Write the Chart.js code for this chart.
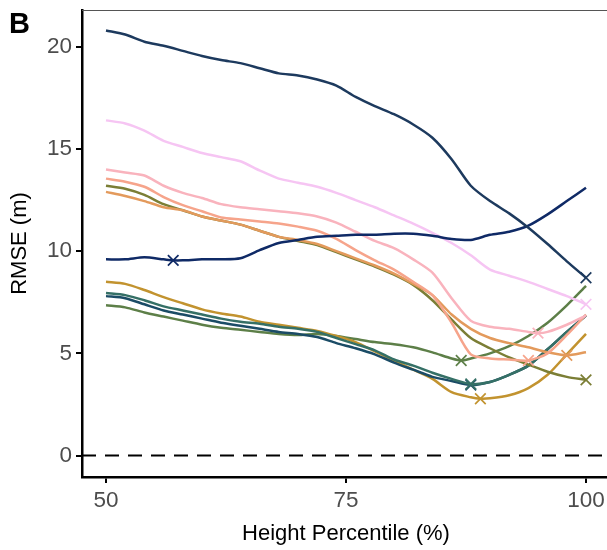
<!DOCTYPE html>
<html>
<head>
<meta charset="utf-8">
<script src="https://cdn.jsdelivr.net/npm/chart.js@4"></script>
<style>
  html, body { margin: 0; padding: 0; background: #fff; overflow: hidden; }
  #wrap { width: 612px; height: 550px; }
</style>
</head>
<body>
<div id="wrap"><canvas id="graf_rmse" width="612" height="550"></canvas></div>
<script>
// percentiles (x) en pasos de 2
var percentiles = [50, 52, 54, 56, 58, 60, 62, 64, 66, 68, 70, 72, 74, 76, 78, 80, 82, 84, 86, 88, 90, 92, 94, 96, 98, 100];

// RMSE (m) por serie
var navyTop  = [20.8, 20.6, 20.25, 20.05, 19.8, 19.55, 19.35, 19.2, 18.95, 18.7, 18.6, 18.4, 18.1, 17.55, 17.1, 16.7, 16.2, 15.55, 14.5, 13.2, 12.45, 11.85, 11.15, 10.35, 9.5, 8.7];
var navyLow  = [9.6, 9.6, 9.7, 9.6, 9.55, 9.6, 9.6, 9.65, 10.05, 10.4, 10.55, 10.7, 10.75, 10.8, 10.8, 10.85, 10.85, 10.75, 10.6, 10.55, 10.8, 10.95, 11.25, 11.8, 12.45, 13.1];
var violet   = [16.4, 16.25, 15.9, 15.4, 15.1, 14.8, 14.6, 14.4, 13.95, 13.55, 13.35, 13.15, 12.85, 12.5, 12.15, 11.75, 11.35, 10.9, 10.4, 9.8, 9.1, 8.8, 8.5, 8.15, 7.8, 7.4];
var pink     = [14.0, 13.85, 13.7, 13.2, 12.85, 12.6, 12.3, 12.15, 12.05, 11.95, 11.85, 11.7, 11.4, 10.95, 10.5, 10.15, 9.6, 8.95, 7.7, 6.6, 6.3, 6.2, 6.05, 6.05, 6.4, 6.85];
var salmon   = [13.55, 13.4, 13.15, 12.65, 12.25, 11.95, 11.65, 11.55, 11.45, 11.35, 11.2, 11.0, 10.6, 10.05, 9.55, 9.1, 8.5, 7.85, 6.5, 4.95, 4.75, 4.7, 4.65, 5.0, 5.9, 6.9];
var orange   = [12.9, 12.7, 12.45, 12.15, 12.0, 11.7, 11.5, 11.3, 11.0, 10.7, 10.55, 10.35, 10.0, 9.65, 9.3, 8.9, 8.4, 7.85, 6.9, 6.2, 5.75, 5.5, 5.3, 5.05, 4.9, 5.05];
var olive    = [13.2, 13.05, 12.75, 12.3, 12.0, 11.7, 11.5, 11.3, 11.0, 10.7, 10.5, 10.3, 9.95, 9.6, 9.25, 8.85, 8.35, 7.6, 6.65, 5.75, 5.25, 4.8, 4.45, 4.1, 3.85, 3.7];
var gold     = [8.5, 8.4, 8.1, 7.75, 7.45, 7.15, 6.95, 6.8, 6.55, 6.4, 6.25, 6.1, 5.85, 5.55, 5.1, 4.65, 4.2, 3.75, 3.1, 2.85, 2.8, 2.95, 3.3, 3.95, 4.95, 5.95];
var teal     = [7.95, 7.85, 7.6, 7.3, 7.1, 6.9, 6.7, 6.55, 6.45, 6.3, 6.2, 6.05, 5.75, 5.45, 5.15, 4.7, 4.4, 4.05, 3.75, 3.5, 3.6, 3.95, 4.4, 5.2, 6.05, 6.85];
var darkBlue = [7.8, 7.7, 7.4, 7.1, 6.9, 6.7, 6.5, 6.35, 6.2, 6.05, 5.95, 5.8, 5.5, 5.25, 4.95, 4.55, 4.2, 3.85, 3.65, 3.45, 3.6, 3.95, 4.4, 5.2, 6.05, 6.85];
var green    = [7.35, 7.25, 7.0, 6.8, 6.6, 6.4, 6.25, 6.15, 6.05, 5.95, 5.9, 5.95, 5.85, 5.7, 5.55, 5.45, 5.3, 5.05, 4.75, 4.75, 5.0, 5.35, 5.85, 6.5, 7.35, 8.3];

// minimo de cada serie (marcado con X), mismo orden que seriesValues
var minPct  = [100, 57, 100, 95, 94, 98, 100, 88, 88, 89, 87];
var minRmse = [8.7, 9.55, 7.4, 5.99, 4.65, 4.9, 3.7, 3.5, 3.45, 2.78, 4.65];

var seriesValues = [navyTop, navyLow, violet, pink, salmon, orange, olive, teal, darkBlue, gold, green];
var seriesColors = ['#1d3a5e', '#0f2a66', '#f6c5f3', '#f9b3bd', '#f6a48b', '#e39a5c', '#7b7e35', '#357066', '#1b4c66', '#c2932f', '#5d7f48'];

var yTicks = [0, 5, 10, 15, 20];
var xTicks = [50, 75, 100];

function buildPoints(values, mx, my) {
  var pts = percentiles.map(function (p, i) { return { x: p, y: values[i] }; });
  var found = pts.find(function (pt) { return pt.x === mx; });
  if (found) { found.y = my; } else { pts.push({ x: mx, y: my }); }
  pts.sort(function (a, b) { return a.x - b.x; });
  return pts;
}

var datasets = seriesValues.map(function (vals, i) {
  var mx = minPct[i], my = minRmse[i];
  return {
    data: buildPoints(vals, mx, my),
    borderColor: seriesColors[i],
    backgroundColor: seriesColors[i],
    borderWidth: 2.5,
    fill: false,
    tension: 0.25,
    pointStyle: 'crossRot',
    pointRadius: function (c) { return c.raw && c.raw.x === mx ? 7.5 : 0; },
    pointBorderWidth: 1.7,
    pointBorderColor: seriesColors[i],
    pointHoverRadius: 0
  };
});

// linea de referencia en 0
datasets.push({
  data: [{ x: 47.5, y: 0 }, { x: 102.5, y: 0 }],
  borderColor: '#000',
  borderWidth: 2,
  borderDash: [14, 9],
  pointRadius: 0,
  fill: false
});

var decor = {
  id: 'decor',
  afterDraw: function (chart) {
    var ctx = chart.ctx, a = chart.chartArea;
    ctx.save();
    ctx.strokeStyle = '#555';
    ctx.lineWidth = 1;
    ctx.beginPath();
    ctx.moveTo(a.left, 10.5);
    ctx.lineTo(chart.width, 10.5);
    ctx.stroke();
    ctx.fillStyle = '#000';
    ctx.font = 'bold 29px "Liberation Sans", Arial, sans-serif';
    ctx.textBaseline = 'alphabetic';
    ctx.fillText('B', 9, 33);
    ctx.restore();
  }
};

var ctx = document.getElementById('graf_rmse').getContext('2d');
var graf_rmse = new Chart(ctx, {
  type: 'line',
  data: { datasets: datasets },
  options: {
    responsive: false,
    animation: false,
    layout: { autoPadding: false, padding: { top: 10, right: 2, left: 0, bottom: 0 } },
    plugins: { legend: { display: false }, tooltip: { enabled: false } },
    scales: {
      x: {
        type: 'linear',
        min: 47.5,
        max: 102.5,
        afterBuildTicks: function (s) { s.ticks = xTicks.map(function (v) { return { value: v }; }); },
        afterFit: function (s) { s.height = 73; s.paddingLeft = 0; s.paddingRight = 0; },
        grid: { drawOnChartArea: false, drawTicks: true, tickLength: 6, color: '#000', lineWidth: 2 },
        border: { display: true, color: '#000', width: 2.5 },
        ticks: { color: '#4d4d4d', padding: 4, maxRotation: 0, font: { family: '"Liberation Sans", Arial, sans-serif', size: 22.5 } },
        title: {
          display: true,
          text: 'Height Percentile (%)',
          color: '#000',
          padding: { top: 0, bottom: 3 },
          font: { family: '"Liberation Sans", Arial, sans-serif', size: 22 }
        }
      },
      y: {
        type: 'linear',
        min: -1.05,
        max: 21.8,
        afterBuildTicks: function (s) { s.ticks = yTicks.map(function (v) { return { value: v }; }); },
        afterFit: function (s) { s.width = 82; s.paddingTop = 0; s.paddingBottom = 0; },
        grid: { drawOnChartArea: false, drawTicks: true, tickLength: 6, color: '#000', lineWidth: 2 },
        border: { display: true, color: '#000', width: 2.5 },
        ticks: { color: '#4d4d4d', padding: 4, font: { family: '"Liberation Sans", Arial, sans-serif', size: 22.5 } },
        title: {
          display: true,
          text: 'RMSE (m)',
          color: '#000',
          padding: { top: 7, bottom: 0 },
          font: { family: '"Liberation Sans", Arial, sans-serif', size: 22 }
        }
      }
    }
  },
  plugins: [decor]
});
</script>
</body>
</html>
